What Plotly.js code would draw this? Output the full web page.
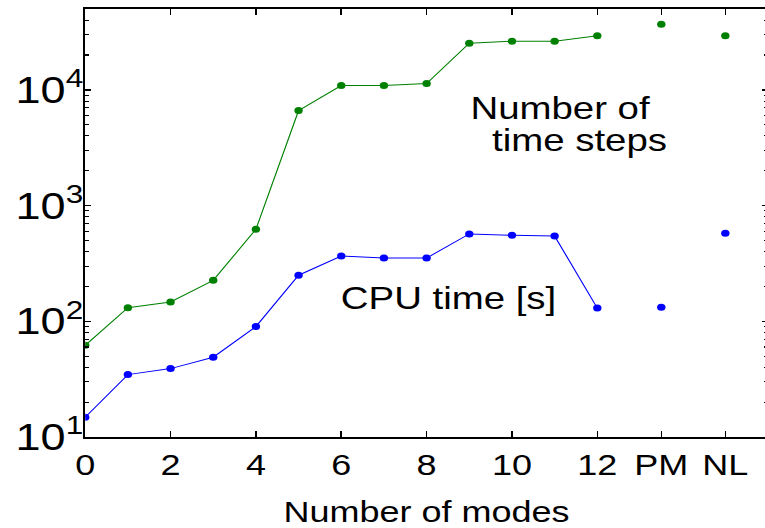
<!DOCTYPE html>
<html>
<head>
<meta charset="utf-8">
<script src="https://cdn.plot.ly/plotly-3.0.1.min.js"></script>
<style>
  html, body { margin: 0; padding: 0; background: #ffffff; overflow: hidden; width: 765px; height: 528px; }
  /* figure is laid out narrow and widened horizontally, like the exported print figure */
  #chart { width: 640px; height: 528px; transform: scaleX(1.2); transform-origin: 0 0; }
</style>
</head>
<body>
<div id="chart"></div>
<script>
// number of retained modes
var modes = [0, 1, 2, 3, 4, 5, 6, 7, 8, 9, 10, 11, 12];
var timeSteps = [62, 131, 147, 226, 624, 6620, 10900, 10900, 11330, 25300, 26300, 26300, 29400];
var cpuTime = [14.8, 34.6, 39, 48.9, 90, 250, 367, 352, 352, 569, 554, 546, 130];

// reference models shown after the mode sweep
var refLabels = ['PM', 'NL'];
var refTimeSteps = [36900, 29400];
var refCpuTime = [132, 576];

var modeTicks = [0, 2, 4, 6, 8, 10, 12];
// decade labels always written as powers of ten
var decadeAlias = { '10': '10<sup>1</sup>' };

// the reference models sit to the right of the last mode count
var refPos = [13.5, 15];

var green = '#008000';
var blue = '#0000ff';
var font = 'Liberation Sans, Arial, Helvetica, sans-serif';
var yRange = [1, Math.log10(50000)];

// intermediate log ticks 2..9 of each decade
var minorVals = [];
for (var d = 10; d <= 10000; d *= 10) {
  for (var k = 2; k <= 9; k++) minorVals.push(k * d);
}

var traces = [
  { x: modes, y: timeSteps, mode: 'lines+markers', type: 'scatter',
    line: { color: green, width: 1 }, marker: { color: green, size: 7 }, hoverinfo: 'skip' },
  { x: refPos, y: refTimeSteps, text: refLabels, mode: 'markers', type: 'scatter',
    marker: { color: green, size: 7 }, hoverinfo: 'skip' },
  { x: modes, y: cpuTime, mode: 'lines+markers', type: 'scatter',
    line: { color: blue, width: 1 }, marker: { color: blue, size: 7 }, hoverinfo: 'skip' },
  { x: refPos, y: refCpuTime, text: refLabels, mode: 'markers', type: 'scatter',
    marker: { color: blue, size: 7 }, hoverinfo: 'skip' },
  // empty trace that carries the minor-tick axis
  { x: [], y: [], yaxis: 'y2', mode: 'markers', type: 'scatter', hoverinfo: 'skip' }
];

var layout = {
  width: 640,
  height: 528,
  margin: { l: 70.6, r: 0, t: 9.3, b: 91.3 },
  paper_bgcolor: '#ffffff',
  plot_bgcolor: '#ffffff',
  showlegend: false,
  font: { family: font, size: 30, color: '#000000' },
  xaxis: {
    range: [0, 16],
    tickmode: 'array',
    tickvals: modeTicks.concat(refPos),
    ticktext: modeTicks.map(String).concat(refLabels),
    ticks: 'inside', ticklen: 6, tickwidth: 1.3, tickcolor: '#000',
    showline: true, linecolor: '#000', linewidth: 2, mirror: 'ticks',
    showgrid: false, zeroline: false,
    tickfont: { family: font, size: 30 },
    title: { text: 'Number of modes', font: { family: font, size: 30 }, standoff: 24 }
  },
  yaxis: {
    type: 'log',
    range: yRange,
    tickmode: 'linear', tick0: 0, dtick: 1,
    exponentformat: 'power',
    labelalias: decadeAlias,
    ticklabelstandoff: -6,
    ticks: 'inside', ticklen: 5, tickwidth: 1.3, tickcolor: '#000',
    showline: true, linecolor: '#000', linewidth: 1.7, mirror: 'ticks',
    showgrid: false, zeroline: false,
    tickfont: { family: font, size: 30 }
  },
  yaxis2: {
    type: 'log',
    overlaying: 'y',
    side: 'left',
    range: yRange,
    tickmode: 'array',
    tickvals: minorVals,
    showticklabels: false,
    ticks: 'inside', ticklen: 3.5, tickwidth: 1.1, tickcolor: '#000',
    showline: false, mirror: 'ticks',
    showgrid: false, zeroline: false
  },
  annotations: [
    { xref: 'paper', yref: 'paper', x: 0.562, y: 0.769, xanchor: 'left', yanchor: 'middle',
      text: 'Number of', showarrow: false, borderpad: 0, font: { family: font, size: 32, color: '#000' } },
    { xref: 'paper', yref: 'paper', x: 0.594, y: 0.695, xanchor: 'left', yanchor: 'middle',
      text: 'time steps', showarrow: false, borderpad: 0, font: { family: font, size: 32, color: '#000' } },
    { xref: 'paper', yref: 'paper', x: 0.373, y: 0.325, xanchor: 'left', yanchor: 'middle',
      text: 'CPU time [s]', showarrow: false, borderpad: 0, font: { family: font, size: 32, color: '#000' } }
  ]
};

Plotly.newPlot('chart', traces, layout, { staticPlot: true, displayModeBar: false });
</script>
</body>
</html>
